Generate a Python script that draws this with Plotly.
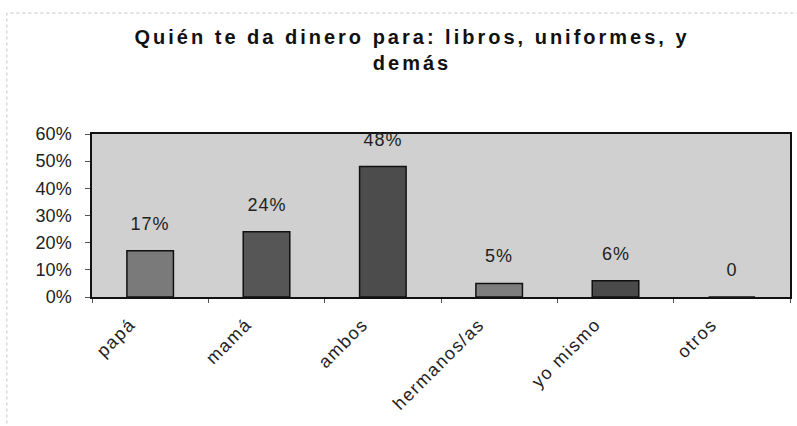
import plotly.graph_objects as go

categories = ["papá", "mamá", "ambos", "hermanos/as", "yo mismo", "otros"]
values = [0.17, 0.24, 0.48, 0.05, 0.06, 0.0]
labels = ["17%", "24%", "48%", "5%", "6%", "0"]
bar_colors = ["#7a7a7a", "#565656", "#4c4c4c", "#7e7e7e", "#4a4a4a", "#888888"]

FONT = "Liberation Sans, Arial, sans-serif"

fig = go.Figure()
fig.add_trace(go.Bar(
    x=categories, y=values, width=0.4,
    marker=dict(color=bar_colors, line=dict(color="#111111", width=1.5)),
    hoverinfo="skip",
))
for c, v, t in zip(categories, values, labels):
    fig.add_annotation(x=c, y=v, text=t, showarrow=False, yshift=27,
                       font=dict(family=FONT, size=18, color="#222222"))

fig.update_layout(
    width=797, height=426,
    margin=dict(l=92, r=7, t=134, b=129),
    paper_bgcolor="white",
    plot_bgcolor="#d0d0d0",
    showlegend=False,
    title=dict(
        text="<b>Quién te da dinero para: libros, uniformes, y<br>demás</b>",
        x=0.517, xanchor="center", y=0.897, yanchor="top",
        font=dict(family=FONT, size=20, color="#111111"),
    ),
)
fig.update_yaxes(
    range=[0, 0.6], dtick=0.1, tickformat=".0%", automargin=False,
    showgrid=False, zeroline=False,
    showline=True, linecolor="#111111", linewidth=1.5, mirror=True,
    ticks="outside", ticklen=5, tickcolor="#555555", ticklabelstandoff=10,
    tickfont=dict(family=FONT, size=18, color="#222222"),
)
fig.update_xaxes(
    showgrid=False, tickangle=-45, automargin=False,
    showline=True, linecolor="#111111", linewidth=1.5, mirror=True,
    ticks="outside", tickson="boundaries", ticklen=4, tickcolor="#555555",
    ticklabelstandoff=8, ticklabelshift=-20,
    tickfont=dict(family=FONT, size=18, color="#222222"),
)
fig.add_shape(type="rect", xref="paper", yref="paper",
              x0=-0.122, x1=1.03, y0=-0.8, y1=1.742,
              line=dict(color="#c4c4c4", width=1, dash="dot"), layer="below")

post = (
    "document.body.style.margin='0';"
    "var s=document.createElement('style');"
    "s.textContent='.gtitle{letter-spacing:3px}"
    " .xtick text{letter-spacing:1.5px}"
    " .annotation-text{letter-spacing:1px}';"
    "document.head.appendChild(s);"
)
fig.write_html("out.html", post_script=post, config={"displayModeBar": False})
